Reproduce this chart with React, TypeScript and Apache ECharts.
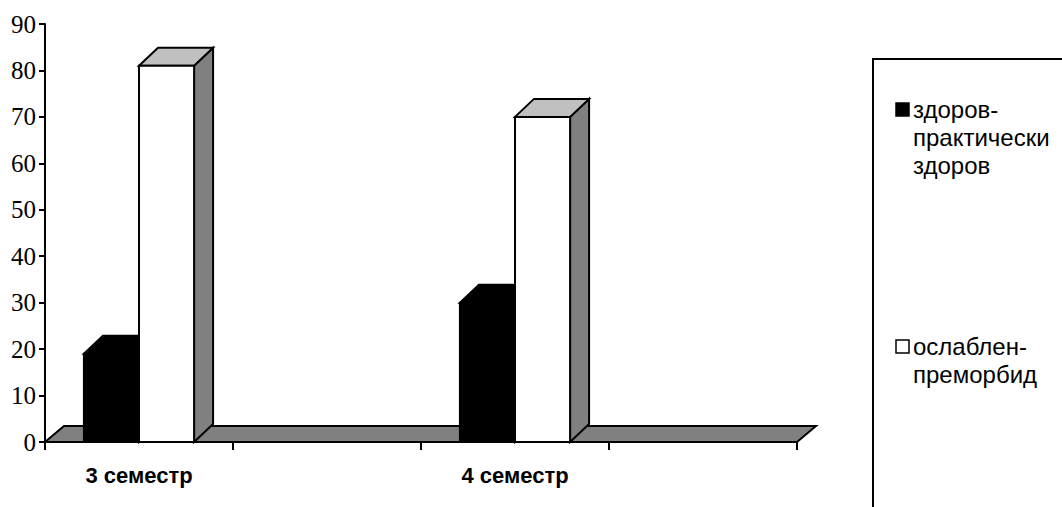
import React, { useEffect, useRef } from "react";
import * as echarts from "echarts";

const categories = ["3 семестр", "", "4 семестр", ""];
const healthy = [19, null, 30, null];
const weakened = [81, null, 70, null];
const seriesNames = ["здоров-\nпрактически\nздоров", "ослаблен-\nпреморбид"];
const yMin = 0;
const yMax = 90;
const yStep = 10;

const DX = 19;
const DY = -18;
const FLOOR_DX = 19;
const FLOOR_DY = -16;
const BAR_FRACTION = 0.293;

function barRenderer(side: "left" | "right", front: string, top: string, sideFill: string) {
  return (params: any, api: any) => {
    const idx = api.value(0);
    const val = api.value(1);
    if (val === null || val === undefined || isNaN(val)) return null;
    const pTop = api.coord([idx, val]);
    const p0 = api.coord([idx, 0]);
    const cx = pTop[0];
    const yTop = pTop[1];
    const y0 = p0[1];
    const bw = api.size([1, 0])[0] * BAR_FRACTION;
    const x0 = side === "left" ? cx - bw : cx;
    const x1 = x0 + bw;
    const stroke = { stroke: "#000", lineWidth: 2, lineJoin: "miter" };
    return {
      type: "group",
      children: [
        {
          type: "polygon",
          shape: { points: [[x1, yTop], [x1 + DX, yTop + DY], [x1 + DX, y0 + DY], [x1, y0]] },
          style: { fill: sideFill, ...stroke },
        },
        {
          type: "polygon",
          shape: { points: [[x0, yTop], [x0 + DX, yTop + DY], [x1 + DX, yTop + DY], [x1, yTop]] },
          style: { fill: top, ...stroke },
        },
        {
          type: "rect",
          shape: { x: x0, y: yTop, width: bw, height: y0 - yTop },
          style: { fill: front, ...stroke },
        },
      ],
    };
  };
}

function floorRenderer(params: any, api: any) {
  const cs = params.coordSys;
  const y0 = api.coord([0, 0])[1];
  const L = cs.x;
  const R = cs.x + cs.width;
  return {
    type: "polygon",
    shape: {
      points: [[L, y0], [L + FLOOR_DX, y0 + FLOOR_DY], [R + FLOOR_DX, y0 + FLOOR_DY], [R, y0]],
    },
    style: { fill: "#808080", stroke: "#000", lineWidth: 2 },
  };
}

function legendGraphics() {
  const items: any[] = [];
  const starts = [109, 346];
  const fills = ["#000", "#fff"];
  seriesNames.forEach((name, i) => {
    const lines = name.split("\n");
    items.push({
      type: "rect",
      shape: { x: 896, y: starts[i] - 6, width: 13, height: 13 },
      style: { fill: fills[i], stroke: "#000", lineWidth: 1.5 },
    });
    lines.forEach((ln, j) => {
      items.push({
        type: "text",
        x: 913,
        y: starts[i] + j * 28,
        style: {
          text: ln,
          fill: "#000",
          font: "24px 'Liberation Sans', Arial, sans-serif",
          verticalAlign: "middle",
          align: "left",
        },
      });
    });
  });
  items.push({
    type: "rect",
    shape: { x: 873, y: 59, width: 300, height: 500 },
    style: { fill: "none", stroke: "#000", lineWidth: 2 },
  });
  return items;
}

export default function App() {
  const ref = useRef<HTMLDivElement>(null);
  useEffect(() => {
    if (!ref.current) return;
    const chart = echarts.init(ref.current, null, { renderer: "svg" });
    chart.setOption({
      animation: false,
      backgroundColor: "#fff",
      grid: { left: 45, right: 265, top: 24, bottom: 65 },
      xAxis: {
        type: "category",
        data: categories,
        boundaryGap: true,
        axisLine: { show: true, lineStyle: { color: "#000", width: 2 } },
        axisTick: { show: true, length: 8, lineStyle: { color: "#000", width: 2 } },
        axisLabel: {
          interval: 0,
          margin: 22,
          color: "#000",
          fontSize: 22,
          fontWeight: "bold",
          fontFamily: "'Liberation Sans', Arial, sans-serif",
        },
        splitLine: { show: false },
      },
      yAxis: {
        type: "value",
        min: yMin,
        max: yMax,
        interval: yStep,
        axisLine: { show: true, lineStyle: { color: "#000", width: 2 } },
        axisTick: { show: true, length: 6, lineStyle: { color: "#000", width: 2 } },
        axisLabel: {
          margin: 9,
          color: "#000",
          fontSize: 25,
          fontFamily: "'Liberation Serif', 'Times New Roman', serif",
        },
        splitLine: { show: false },
      },
      series: [
        {
          type: "custom",
          name: "floor",
          renderItem: floorRenderer,
          data: [[0, 0]],
          encode: { x: 0, y: 1 },
          silent: true,
          z: 1,
        },
        {
          type: "custom",
          name: seriesNames[0],
          renderItem: barRenderer("left", "#000", "#000", "#000"),
          data: healthy.map((v, i) => [i, v]),
          encode: { x: 0, y: 1 },
          itemStyle: { color: "#000" },
          z: 2,
        },
        {
          type: "custom",
          name: seriesNames[1],
          renderItem: barRenderer("right", "#fff", "#c0c0c0", "#808080"),
          data: weakened.map((v, i) => [i, v]),
          encode: { x: 0, y: 1 },
          itemStyle: { color: "#fff" },
          z: 3,
        },
      ],
      graphic: legendGraphics(),
    });
    return () => chart.dispose();
  }, []);
  return (
    <div
      ref={ref}
      style={{ position: "absolute", left: 0, top: 0, width: 1062, height: 507 }}
    />
  );
}
